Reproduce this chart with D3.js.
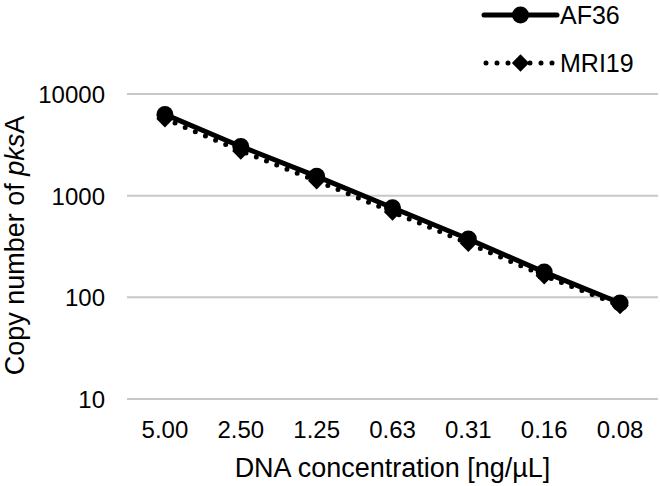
<!DOCTYPE html>
<html>
<head>
<meta charset="utf-8">
<script src="https://cdn.jsdelivr.net/npm/d3@7"></script>
<style>
  body { margin: 0; background: #fff; }
  svg { font-family: "Liberation Sans", Arial, sans-serif; }
</style>
</head>
<body>
<svg id="chart" width="660" height="486"></svg>
<script>
const categories = ['5.00', '2.50', '1.25', '0.63', '0.31', '0.16', '0.08'];
const af36 = [6300, 3050, 1550, 760, 375, 177, 88];
const mri19 = [5700, 2750, 1400, 690, 340, 163, 83];
const yTicks = [10, 100, 1000, 10000];

const config = {
  'left': 127,
  'right': 658,
  'top': 94,
  'bottom': 399,
  'tick-size': '24px',
  'title-size': '27px',
  'legend-size': '25px',
  'grid': '#c8c8c8'
};

const svg = d3.select('#chart');

const x = d3.scaleBand()
  .domain(categories)
  .range([config['left'], config['right']]);

const y = d3.scaleLog()
  .domain([10, 10000])
  .range([config['bottom'], config['top']]);

// gridlines
svg.append('g')
  .selectAll('line')
  .data(yTicks)
  .enter()
  .append('line')
  .attr('x1', config['left'])
  .attr('x2', config['right'])
  .attr('y1', d => y(d))
  .attr('y2', d => y(d))
  .style('stroke', config['grid'])
  .style('stroke-width', '2px');

const yAxis = svg.append('g')
  .attr('transform', 'translate(105, 0)')
  .call(d3.axisLeft(y).tickValues(yTicks).tickFormat(d3.format('d')).tickSize(0).tickPadding(0));
yAxis.select('.domain').remove();
yAxis.selectAll('text')
  .attr('dy', '0.36em')
  .style('font-size', config['tick-size'])
  .style('font-family', '"Liberation Sans", Arial, sans-serif')
  .attr('fill', '#000');

const xAxis = svg.append('g')
  .attr('transform', 'translate(0, 438)')
  .call(d3.axisBottom(x).tickSize(0).tickPadding(0));
xAxis.select('.domain').remove();
xAxis.selectAll('text')
  .attr('y', 0)
  .attr('dy', 0)
  .style('font-size', config['tick-size'])
  .style('font-family', '"Liberation Sans", Arial, sans-serif')
  .attr('fill', '#000');

// axis titles
svg.append('text')
  .attr('x', (config['left'] + config['right']) / 2)
  .attr('y', 477)
  .attr('text-anchor', 'middle')
  .style('font-size', config['title-size'])
  .text('DNA concentration [ng/\u00b5L]');

const yTitle = svg.append('text')
  .attr('transform', `translate(24, ${(config['top'] + config['bottom']) / 2 - 1}) rotate(-90)`)
  .attr('text-anchor', 'middle')
  .style('font-size', config['title-size']);
yTitle.append('tspan').text('Copy number of ');
yTitle.append('tspan').style('font-style', 'italic').text('pks');
yTitle.append('tspan').text('A');

const line = d3.line()
  .x((d, i) => x(categories[i]) + x.bandwidth() / 2)
  .y(d => y(d));

const diamond = d3.symbol().type(d3.symbolDiamond2).size(190);

// MRI19 (dotted, diamonds)
svg.append('path')
  .attr('d', line(mri19))
  .style('fill', 'none')
  .style('stroke', '#000')
  .style('stroke-width', '5px')
  .style('stroke-linecap', 'round')
  .style('stroke-dasharray', '0 11');

svg.append('g')
  .selectAll('path')
  .data(mri19)
  .enter()
  .append('path')
  .attr('d', diamond)
  .attr('transform', (d, i) => `translate(${x(categories[i]) + x.bandwidth() / 2}, ${y(d)})`)
  .attr('fill', '#000');

// AF36 (solid, circles)
svg.append('path')
  .attr('d', line(af36))
  .style('fill', 'none')
  .style('stroke', '#000')
  .style('stroke-width', '5px');

svg.append('g')
  .selectAll('circle')
  .data(af36)
  .enter()
  .append('circle')
  .attr('cx', (d, i) => x(categories[i]) + x.bandwidth() / 2)
  .attr('cy', d => y(d))
  .attr('r', 8.5)
  .attr('fill', '#000');

// legend
const legend = svg.append('g');
const lx1 = 484, lx2 = 557;

legend.append('line')
  .attr('x1', lx1).attr('x2', lx2)
  .attr('y1', 15).attr('y2', 15)
  .style('stroke', '#000')
  .style('stroke-width', '5px')
  .style('stroke-linecap', 'round');
legend.append('circle')
  .attr('cx', (lx1 + lx2) / 2).attr('cy', 15).attr('r', 8.5)
  .attr('fill', '#000');
legend.append('text')
  .attr('x', 560).attr('y', 24)
  .style('font-size', config['legend-size'])
  .text('AF36');

legend.append('line')
  .attr('x1', lx1 + 2).attr('x2', lx2)
  .attr('y1', 63).attr('y2', 63)
  .style('stroke', '#000')
  .style('stroke-width', '5px')
  .style('stroke-linecap', 'round')
  .style('stroke-dasharray', '0 11');
legend.append('path')
  .attr('d', diamond)
  .attr('transform', `translate(${(lx1 + lx2) / 2}, 63)`)
  .attr('fill', '#000');
legend.append('text')
  .attr('x', 560).attr('y', 72)
  .style('font-size', config['legend-size'])
  .text('MRI19');
</script>
</body>
</html>
